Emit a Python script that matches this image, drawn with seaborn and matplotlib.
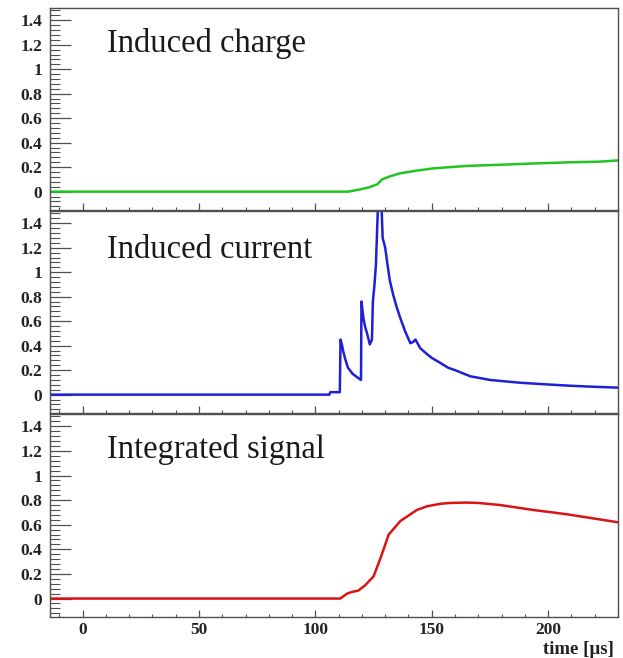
import numpy as np
import pandas as pd
import matplotlib
matplotlib.use("Agg")
import matplotlib.pyplot as plt
from matplotlib.ticker import MultipleLocator, FuncFormatter
import seaborn as sns

# ---- data ----
t_charge = [-14, 114, 119, 123, 126.6, 128.7, 132, 136.5, 143, 150.6, 165, 180, 193.6, 210, 222, 230]
v_charge = [0, 0, 0.017, 0.035, 0.06, 0.10, 0.125, 0.15, 0.17, 0.19, 0.21, 0.22, 0.23, 0.24, 0.245, 0.255]

t_current = [-14, 106, 106.4, 110.5, 110.8, 111.5, 112, 113, 114, 116, 118.8, 119.6, 119.8, 120.6, 121.3,
             122.2, 123.4, 124.3, 124.7, 125.4, 126.0, 127.0, 128.3, 128.9, 130.0, 131.0, 132.0, 133.5,
             135.0, 136.4, 138.5, 140.8, 142, 143, 145, 148, 150, 153.6, 157, 160, 166.5, 175, 188, 200,
             209, 220, 230]
v_current = [0, 0, 0.02, 0.02, 0.45, 0.40, 0.35, 0.28, 0.22, 0.17, 0.13, 0.12, 0.76, 0.63, 0.56,
             0.50, 0.41, 0.45, 0.76, 0.90, 1.06, 1.60, 1.60, 1.28, 1.20, 1.06, 0.93, 0.81,
             0.71, 0.63, 0.52, 0.42, 0.43, 0.45, 0.38, 0.33, 0.30, 0.26, 0.22, 0.20, 0.15, 0.12, 0.097, 0.083,
             0.073, 0.064, 0.057]

t_signal = [-14, 110.7, 113.6, 116, 118.5, 121.5, 125, 128, 131.5, 136.5, 143.6, 148, 153.6, 158, 165,
            170, 179.4, 193.6, 208, 230]
v_signal = [0, 0, 0.04, 0.055, 0.065, 0.11, 0.18, 0.33, 0.52, 0.63, 0.72, 0.75, 0.77, 0.777, 0.78,
            0.777, 0.76, 0.72, 0.685, 0.62]

titles = ["Induced charge", "Induced current", "Integrated signal"]
colors = ["#22c422", "#1f1fd6", "#d81414"]
x_ticks = [0, 50, 100, 150, 200]
xlabel = "time [\u00b5s]"

sns.set_theme(style="ticks")
plt.rcParams["font.family"] = ["Liberation Serif", "DejaVu Serif"]

W, H = 623, 658
fig = plt.figure(figsize=(W / 100, H / 100), dpi=100)

panels = [(8, 210), (211, 413), (414, 617)]
series = [(t_charge, v_charge), (t_current, v_current), (t_signal, v_signal)]
title_base = [52, 258, 458]

frame_col = "#505050"
for i, ((top, bot), (tt, vv)) in enumerate(zip(panels, series)):
    ax = fig.add_axes([50 / W, 1 - bot / H, 568 / W, (bot - top) / H])
    df = pd.DataFrame({"t": tt, "v": vv})
    sns.lineplot(data=df, x="t", y="v", ax=ax, color=colors[i], lw=1.8,
                 estimator=None, sort=False)
    ax.set_xlim(-14, 230)
    ax.set_ylim(-0.15, 1.5)
    ax.set_xlabel("")
    ax.set_ylabel("")
    ax.set_xticks(x_ticks)
    ax.xaxis.set_minor_locator(MultipleLocator(10))
    ax.set_yticks([0, 0.2, 0.4, 0.6, 0.8, 1.0, 1.2, 1.4])
    ax.yaxis.set_minor_locator(MultipleLocator(0.04))
    ax.yaxis.set_major_formatter(FuncFormatter(lambda v, p: "%g" % round(v, 2)))
    ax.tick_params(axis="y", which="major", direction="in", length=15, width=0.9,
                   color=frame_col, labelsize=12.5, pad=5.5)
    ax.tick_params(axis="y", which="minor", direction="in", length=7.5, width=0.8, color=frame_col)
    ax.tick_params(axis="x", which="major", direction="in", length=5, width=0.9,
                   color=frame_col, labelsize=12.5, pad=3.5)
    ax.tick_params(axis="x", which="minor", direction="in", length=2.5, width=0.8, color=frame_col)
    for lab in ax.get_yticklabels() + ax.get_xticklabels():
        lab.set_fontweight("bold")
        lab.set_color("#222222")
    if i < 2:
        ax.tick_params(axis="x", labelbottom=False)
    for s in ax.spines.values():
        s.set_visible(True)
        s.set_color(frame_col)
        s.set_linewidth(1.0)
    ax.text((107 - 50) / 568, (bot - title_base[i]) / (bot - top), titles[i],
            transform=ax.transAxes, ha="left", va="baseline", fontsize=23.5, color="#1a1a1a")

fig.text(614 / W, 1 - 654 / H, xlabel, ha="right", va="baseline", fontsize=13.5,
         fontweight="bold", color="#222222")

fig.savefig("out.png", dpi=100)
